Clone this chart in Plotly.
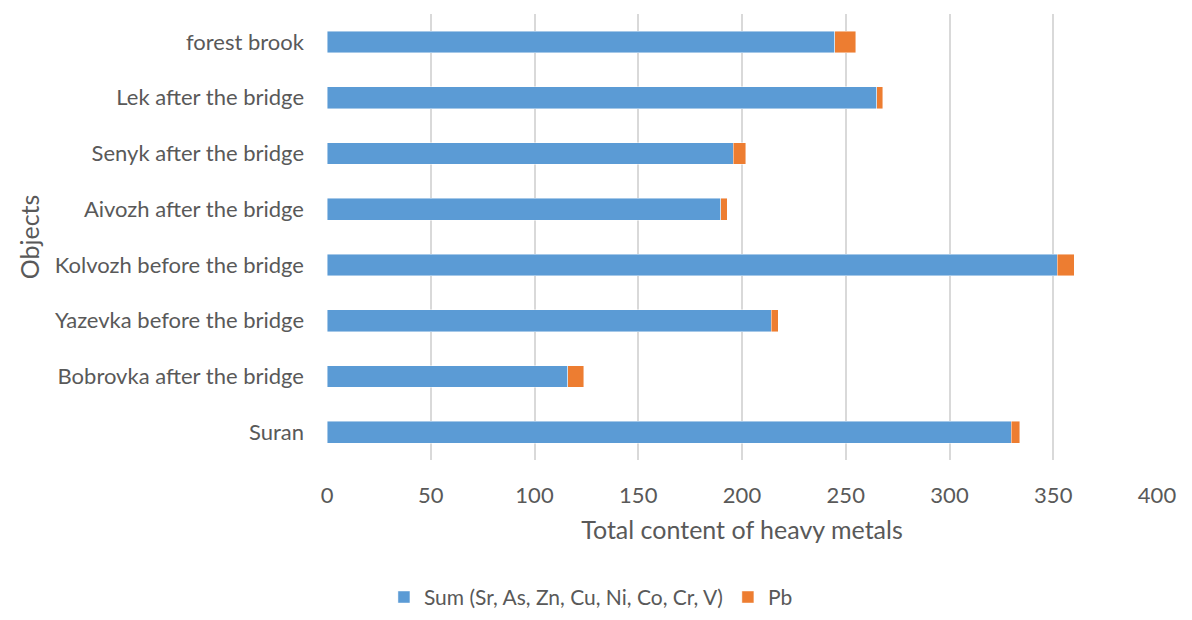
import plotly.graph_objects as go

categories = ["Suran", "Bobrovka after the bridge", "Yazevka before the bridge",
              "Kolvozh before the bridge", "Aivozh after the bridge",
              "Senyk after the bridge", "Lek after the bridge", "forest brook"]
sum_values = [329.7, 116, 214, 351.9, 189.7, 195.8, 265, 244.8]
pb_values = [4.2, 7.7, 3.4, 8.1, 3.3, 6.0, 2.9, 10.0]
x_ticks = [0, 50, 100, 150, 200, 250, 300, 350, 400]

FONT = "Lato, Calibri, 'Open Sans', sans-serif"
TXT = "#595959"

fig = go.Figure()
fig.add_trace(go.Bar(y=categories, x=sum_values, orientation="h",
                     name="Sum (Sr, As, Zn, Cu, Ni, Co, Cr, V)",
                     marker=dict(color="#5B9BD5", line=dict(color="rgba(255,255,255,0.6)", width=0.75))))
fig.add_trace(go.Bar(y=categories, x=pb_values, orientation="h", name="Pb",
                     marker=dict(color="#ED7D31", line=dict(color="rgba(255,255,255,0.6)", width=0.75))))

fig.update_layout(
    barmode="stack", bargap=0.61,
    width=1176, height=604,
    margin=dict(l=319, r=27, t=6, b=152, autoexpand=False),
    paper_bgcolor="white", plot_bgcolor="white",
    font=dict(family=FONT, color=TXT, size=22),
    showlegend=True,
    legend=dict(orientation="h", x=0.318, xanchor="center", y=-0.308, yanchor="middle",
                font=dict(size=21, color=TXT), traceorder="normal", itemwidth=30,
                tracegroupgap=0),
    xaxis=dict(range=[0, 400], tickvals=x_ticks, showgrid=True, gridcolor="#D9D9D9",
               gridwidth=2, zeroline=False, showline=False, ticks="",
               ticklabelstandoff=20, tickfont=dict(size=22, color=TXT),
               title=dict(text="Total content of heavy metals", font=dict(size=25, color=TXT),
                          standoff=14),
               automargin=False),
    yaxis=dict(showgrid=False, zeroline=False, showline=False, ticks="",
               ticklabelstandoff=22, tickfont=dict(size=22, color=TXT),
               title=dict(text="Objects", font=dict(size=25, color=TXT), standoff=8),
               automargin=False),
)

fig.write_html("out.html")
